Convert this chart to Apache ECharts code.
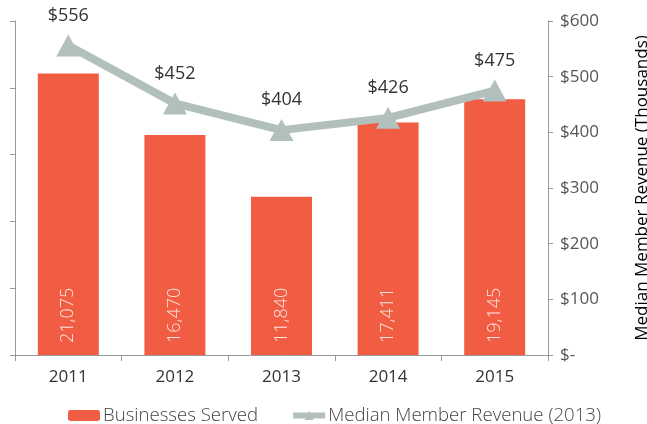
<!DOCTYPE html>
<html>
<head>
<meta charset="utf-8">
<script src="https://cdn.jsdelivr.net/npm/echarts@6/dist/echarts.min.js"></script>
<style>
html, body { margin: 0; padding: 0; background: #fff; }
#chart1 { width: 647px; height: 424px; }
</style>
</head>
<body>
<div id="chart1"></div>
<script>
var years = ['2011', '2012', '2013', '2014', '2015'];
var businesses = [21075, 16470, 11840, 17411, 19145];
var revenue = [556, 452, 404, 426, 475];

var myChart = echarts.init(document.getElementById('chart1'));

var font = 'Open Sans';

var option = {
    animation: false,
    textStyle: { fontFamily: font },
    legend: {
        top: 401,
        left: 63,
        itemGap: 32,
        itemWidth: 32,
        itemHeight: 11,
        textStyle: { fontSize: 18.6, color: '#444', fontWeight: 300, fontFamily: font, padding: [0, 0, 0, -2] },
        data: [
            { name: 'Businesses Served' },
            { name: 'Median Member Revenue (2013)', lineStyle: { width: 6 }, symbolSize: 14 }
        ]
    },
    grid: {
        left: 15,
        right: 99,
        top: 21,
        bottom: 69,
        outerBoundsMode: 'none'
    },
    xAxis: {
        type: 'category',
        data: years,
        axisLine: { lineStyle: { color: '#999' } },
        axisTick: { show: true, lineStyle: { color: '#999' }, length: 6 },
        axisLabel: { fontSize: 17, color: '#333', margin: 14, fontFamily: font }
    },
    yAxis: [
        {
            type: 'value',
            min: 0,
            max: 25000,
            interval: 5000,
            position: 'left',
            axisLine: { show: true, lineStyle: { color: '#999' } },
            axisTick: { show: true, length: 5, lineStyle: { color: '#999' } },
            axisLabel: { show: false },
            splitLine: { show: false }
        },
        {
            type: 'value',
            min: 0,
            max: 600,
            interval: 100,
            position: 'right',
            name: 'Median Member Revenue (Thousands)',
            nameLocation: 'middle',
            nameGap: 86,
            nameRotate: 90,
            nameTextStyle: { fontSize: 17, color: '#000', fontFamily: font },
            axisLine: { show: true, lineStyle: { color: '#999' } },
            axisTick: { show: true, length: 5, lineStyle: { color: '#999' } },
            axisLabel: {
                fontSize: 17,
                color: '#555',
                margin: 12,
                fontFamily: font,
                formatter: function (v) { return v === 0 ? '$-' : '$' + v; }
            },
            splitLine: { show: false }
        }
    ],
    series: [
        {
            name: 'Businesses Served',
            type: 'bar',
            data: businesses,
            barWidth: 61,
            itemStyle: { color: '#F15D42' },
            label: {
                show: true,
                position: 'insideBottom',
                rotate: 90,
                align: 'left',
                verticalAlign: 'middle',
                distance: 12,
                color: '#FCE3DD',
                fontSize: 18,
                fontWeight: 300,
                fontFamily: font,
                formatter: function (p) { return p.value.toLocaleString('en-US'); }
            }
        },
        {
            name: 'Median Member Revenue (2013)',
            type: 'line',
            yAxisIndex: 1,
            data: revenue,
            symbol: 'triangle',
            symbolSize: [24, 22],
            lineStyle: { color: '#B2C0BD', width: 8 },
            itemStyle: { color: '#B2C0BD' },
            label: {
                show: true,
                position: 'top',
                distance: 10,
                color: '#333',
                fontSize: 18,
                fontFamily: font,
                formatter: function (p) { return '$' + p.value; }
            }
        }
    ]
};
myChart.setOption(option);

window.onresize = function () {
    myChart.resize();
};
</script>
</body>
</html>
